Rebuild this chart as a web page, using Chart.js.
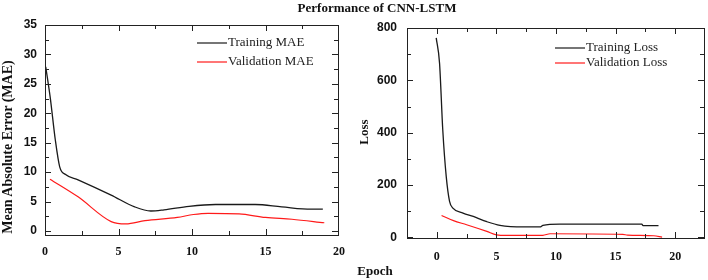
<!DOCTYPE html>
<html>
<head>
<meta charset="utf-8">
<script src="https://cdn.jsdelivr.net/npm/chart.js@4"></script>
<style>
  body { margin: 0; background: #fff; }
  #wrap { position: relative; width: 708px; height: 280px; overflow: hidden; }
  canvas { position: absolute; top: 0; }
  .box { position: absolute; border: 1px solid #222; box-sizing: border-box; pointer-events: none; }
  .lbl { position: absolute; white-space: nowrap; font-family: "Liberation Serif", serif; font-weight: bold; color: #111; transform: translate(-50%, -50%); }
  .rot { transform: translate(-50%, -50%) rotate(-90deg); }
</style>
</head>
<body>
<div id="wrap">
  <canvas id="maeChart" width="354" height="280" style="left:0"></canvas>
  <canvas id="lossChart" width="354" height="280" style="left:354px"></canvas>
  <div class="box" id="maeBox"></div>
  <div class="box" id="lossBox"></div>
  <div class="lbl" style="left:377px; top:8px; font-size:13px">Performance of CNN-LSTM</div>
  <div class="lbl rot" style="left:8px; top:147px; font-size:14px">Mean Absolute Error (MAE)</div>
  <div class="lbl rot" style="left:364px; top:132px; font-size:13px">Loss</div>
  <div class="lbl" style="left:375px; top:271px; font-size:13px">Epoch</div>
</div>
<script>
// MAE panel (epoch, value)
const trainMAE = [
  [0.05, 27.9], [0.35, 22.8], [0.7, 15.5], [1.0, 10.9], [1.4, 9.6], [2.25, 8.7],
  [4.5, 6.1], [6.1, 4.1], [7.2, 3.4], [8.1, 3.6], [9.8, 4.2], [11.6, 4.5],
  [14.3, 4.5], [16.1, 4.1], [18.1, 3.7], [18.9, 3.7]
];
const valMAE = [
  [0.34, 8.8], [2.25, 5.8], [4.5, 1.6], [5.5, 1.2], [6.8, 1.75], [9.0, 2.3],
  [10.1, 2.8], [11.1, 3.0], [13.2, 2.9], [15.0, 2.3], [16.8, 2.0], [19.0, 1.4]
];
// Loss panel
const trainLoss = [
  [-0.05, 762], [0.23, 666], [0.5, 411], [0.79, 233], [1.07, 138], [1.35, 112],
  [2.2, 93], [3.06, 80], [4.2, 60], [5.3, 46], [7.3, 40], [8.66, 40], [8.9, 46],
  [10.3, 51], [17.2, 51], [17.3, 45], [18.6, 45]
];
const valLoss = [
  [0.4, 84], [1.4, 64], [2.5, 48.5], [4.2, 23], [5.0, 10], [5.86, 8], [8.9, 8],
  [9.5, 14], [15.6, 11.5], [16.0, 9], [18.2, 6.5], [18.9, 1.5]
];

const maeLabels = ['Training MAE', 'Validation MAE'];
const lossLabels = ['Training Loss', 'Validation Loss'];

const epochTicks = [0, 5, 10, 15, 20];
const maeXMinor = [2.5, 7.5, 12.5, 17.5];
const lossXMinor = [-2.5, 2.5, 7.5, 12.5, 17.5, 22.5];
const maeTicks = [0, 5, 10, 15, 20, 25, 30, 35];
const maeYMinor = [2.5, 7.5, 12.5, 17.5, 22.5, 27.5, 32.5];
const lossTicks = [0, 200, 400, 600, 800];
const lossYMinor = [100, 300, 500, 700];

const toXY = arr => arr.map(p => ({ x: p[0], y: p[1] }));

// inward tick marks on all four sides, plus the legend inside the plot
function decorPlugin(cfg) {
  return {
    id: 'decor',
    afterDraw(chart) {
      const ctx = chart.ctx;
      const xs = chart.scales.x, ys = chart.scales.y;
      const L = Math.round(xs.getPixelForValue(cfg.xMin));
      const R = Math.round(xs.getPixelForValue(cfg.xMax)) - 1;
      const T = Math.round(ys.getPixelForValue(cfg.yMax));
      const B = Math.round(ys.getPixelForValue(cfg.yMin)) - 1;
      ctx.save();
      ctx.fillStyle = '#222';
      for (const v of epochTicks.concat(cfg.xMinor)) {
        const len = epochTicks.includes(v) ? 6 : 4;
        const px = Math.min(R, Math.round(xs.getPixelForValue(v)));
        ctx.fillRect(px, B - len, 1, len);
        ctx.fillRect(px, T, 1, len);
      }
      for (const v of cfg.yTicks.concat(cfg.yMinor)) {
        const len = cfg.yTicks.includes(v) ? 6 : 4;
        const py = Math.round(ys.getPixelForValue(v));
        ctx.fillRect(L, py, len, 1);
        ctx.fillRect(R - len, py, len, 1);
      }

      const pos = cfg.legend;
      ctx.font = '13px "Liberation Serif"';
      ctx.textBaseline = 'middle';
      chart.data.datasets.forEach((ds, i) => {
        const y = pos.y + i * pos.gap;
        ctx.strokeStyle = ds.borderColor;
        ctx.lineWidth = 1.2;
        ctx.beginPath();
        ctx.moveTo(pos.x, y); ctx.lineTo(pos.x + 30, y);
        ctx.stroke();
        ctx.fillStyle = '#222';
        ctx.fillText(ds.label, pos.x + 31, y);
      });
      ctx.restore();
    }
  };
}

function makeChart(id, labels, trainData, valData, cfg) {
  const chart = new Chart(document.getElementById(id), {
    type: 'line',
    data: {
      datasets: [
        { label: labels[0], data: toXY(trainData), borderColor: '#1a1a1a', borderWidth: 1.3 },
        { label: labels[1], data: toXY(valData), borderColor: '#ff1a1a', borderWidth: 1.2 }
      ]
    },
    options: {
      responsive: false,
      animation: false,
      layout: { padding: cfg.padding },
      elements: { point: { radius: 0 }, line: { cubicInterpolationMode: 'monotone' } },
      scales: {
        x: {
          type: 'linear', min: cfg.xMin, max: cfg.xMax,
          grid: { display: false, drawTicks: false }, border: { display: false },
          afterBuildTicks: s => { s.ticks = epochTicks.map(v => ({ value: v })); },
          afterFit: s => { s.height = cfg.xHeight; },
          ticks: { padding: cfg.xPad, color: '#111', font: { family: 'Liberation Serif', size: 12, weight: 'bold' } }
        },
        y: {
          type: 'linear', min: cfg.yMin, max: cfg.yMax,
          grid: { display: false, drawTicks: false }, border: { display: false },
          afterBuildTicks: s => { s.ticks = cfg.yTicks.map(v => ({ value: v })); },
          afterFit: s => { s.width = cfg.yWidth; },
          ticks: { padding: cfg.yPad, color: '#111', font: { family: 'Liberation Sans', size: 12, weight: 'bold' } }
        }
      },
      plugins: { legend: { display: false }, tooltip: { enabled: false } }
    },
    plugins: [decorPlugin(cfg)]
  });
  // box frame placed over the chart area reported by Chart.js
  const a = chart.chartArea;
  const box = document.getElementById(cfg.box);
  box.style.left = (cfg.offset + Math.round(a.left)) + 'px';
  box.style.top = Math.round(a.top) + 'px';
  box.style.width = Math.round(a.right - a.left) + 'px';
  box.style.height = Math.round(a.bottom - a.top) + 'px';
  return chart;
}

makeChart('maeChart', maeLabels, trainMAE, valMAE, {
  padding: { left: 0, right: 11, top: 25, bottom: 0 },
  xMin: 0, xMax: 20, yMin: -0.85, yMax: 35,
  xHeight: 44, yWidth: 45, xPad: 9, yPad: 8,
  yTicks: maeTicks, xMinor: maeXMinor, yMinor: maeYMinor,
  legend: { x: 197, y: 43, gap: 19 }, box: 'maeBox', offset: 0
});

makeChart('lossChart', lossLabels, trainLoss, valLoss, {
  padding: { left: 0, right: 3, top: 28, bottom: 0 },
  xMin: -2.5, xMax: 22.5, yMin: -6, yMax: 800,
  xHeight: 41, yWidth: 53, xPad: 11, yPad: 10,
  yTicks: lossTicks, xMinor: lossXMinor, yMinor: lossYMinor,
  legend: { x: 201, y: 48, gap: 15 }, box: 'lossBox', offset: 354
});
</script>
</body>
</html>
